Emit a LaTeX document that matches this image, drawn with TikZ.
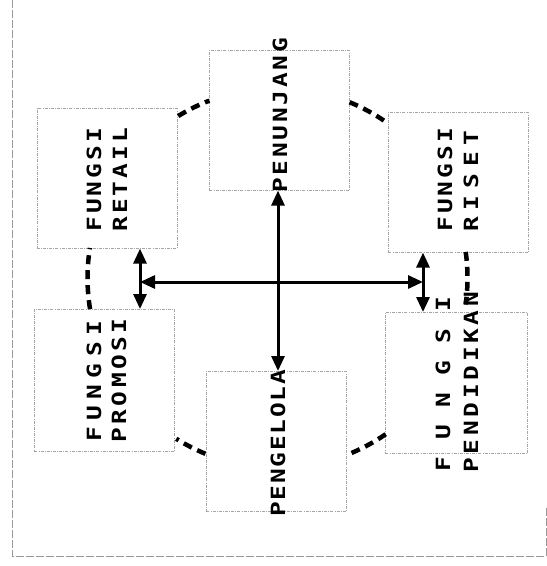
\documentclass[tikz,border=0pt]{standalone}
\usepackage{fontspec}
\newfontfamily\dfont{DejaVu Sans Mono}
\usetikzlibrary{arrows.meta}
\begin{document}
\begin{tikzpicture}[x=1bp,y=-1bp,
  box/.style={draw=gray!70, line width=0.6bp, dash pattern=on 3bp off 1.2bp on 0.8bp off 1.2bp,
    minimum width=140bp, minimum height=140bp, inner sep=0pt, anchor=north west},
  lbl/.style={rotate=90, anchor=base west, inner sep=0pt,
    font={\dfont\bfseries\fontsize{19.6bp}{24bp}\selectfont\addfontfeatures{FakeStretch=1.25,LetterSpace=#1}}},
  ring/.style={line width=4.5bp, dash pattern=on 9bp off 6bp},
  dbl/.style={line width=3bp, {Triangle[length=15bp,width=13bp]}-{Triangle[length=15bp,width=13bp]}},
  frame/.style={draw=gray!80, line width=0.6bp, dash pattern=on 8bp off 2bp}]
\useasboundingbox (0,0) rectangle (547,566);
% frame
\draw[frame] (12,0) |- (546,556) -- (546,507);
% boxes
\node[box] (pnj) at (209,50) {};
\node[box] (ret) at (36.5,108) {};
\node[box] (ris) at (388,112) {};
\node[box, minimum height=142bp] (pro) at (34,309) {};
\node[box] (pgl) at (206,371) {};
\node[box, minimum width=142bp, minimum height=141bp] (pdk) at (385,312) {};
% ring segments
\coordinate (c) at (277.5,278);
\draw[ring] ([shift={(-121.5:190)}]c) arc[start angle=-121.5, end angle=-111, radius=190];
\draw[ring] ([shift={(-67.7:190)}]c) arc[start angle=-67.7, end angle=-55, radius=190];
\draw[ring] ([shift={(-7.9:190)}]c) arc[start angle=-7.9, end angle=8, radius=190];
\draw[ring] ([shift={(170.6:190)}]c) arc[start angle=170.6, end angle=189.1, radius=190];
\draw[ring] ([shift={(112.3:190)}]c) arc[start angle=112.3, end angle=122.2, radius=190];
\draw[ring] ([shift={(55.3:190)}]c) arc[start angle=55.3, end angle=68.8, radius=190];
% texts
\node[lbl=16] (retA) at (101,232) {FUNGSI};
\node[lbl=16] (retB) at (127,232) {RETAIL};
\node[lbl=16] (risA) at (452,232) {FUNGSI};
\node[lbl=-40] (risB) at (478,232) {R I S E T};
\node[lbl=-42] (proA) at (101,442) {F U N G S I};
\node[lbl=18] (proB) at (126,443) {PROMOSI};
\node[lbl=14] (pnjT) at (287,193) {PENUNJANG};
\node[lbl=9] (pglT) at (285,517) {PENGELOLA};
\node[lbl=13] (pdkA) at (450,472) {F U N G S I};
\node[lbl=19] (pdkB) at (478,473) {PENDIDIKAN};
% arrows
\coordinate (hub) at (278,282);
\coordinate (la) at (140,282);
\coordinate (ra) at (423,282);
\draw[dbl] (hub |- pnj.south) -- (hub |- pgl.north);
\draw[dbl] (la |- ret.south) -- (la |- pro.north);
\draw[dbl] (ra |- ris.south) -- (ra |- pdk.north);
\draw[dbl] (la) -- (ra);
\end{tikzpicture}
\end{document}
